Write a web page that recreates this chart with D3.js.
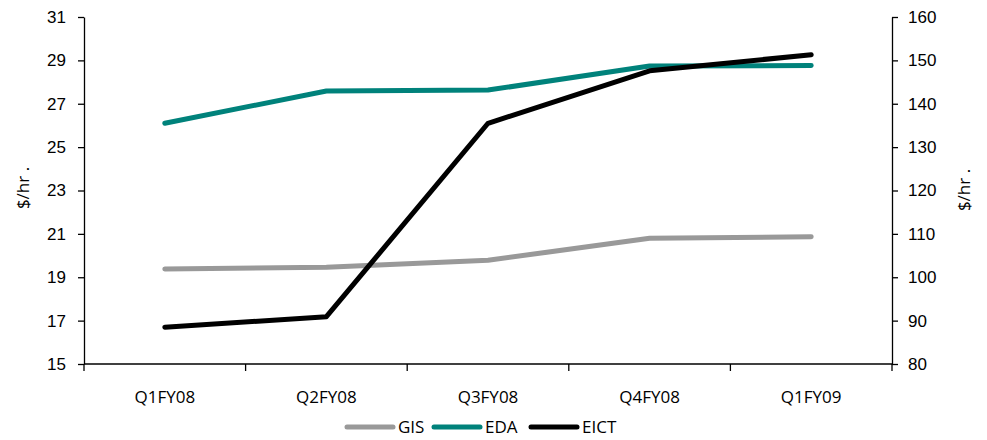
<!DOCTYPE html>
<html>
<head>
<meta charset="utf-8">
<script src="https://cdn.jsdelivr.net/npm/d3@7"></script>
<style>
  body { margin: 0; background: #fff; }
  svg { font-family: "Open Sans", "Noto Sans", sans-serif; }
  .axis path, .axis line { stroke: #000; stroke-width: 1.3; }
  .axis text { font-size: 17px; fill: #000; }
</style>
</head>
<body>
<div id="chart"></div>
<script>
// quarters on the x axis
const quarters = ["Q1FY08", "Q2FY08", "Q3FY08", "Q4FY08", "Q1FY09"];
// left axis series ($/hr)
const gis = [19.38, 19.46, 19.78, 20.8, 20.87];
const eda = [26.1, 27.59, 27.63, 28.74, 28.76];
// right axis series ($/hr)
const eict = [88.5, 90.9, 135.5, 147.6, 151.3];
const leftTicks = [15, 17, 19, 21, 23, 25, 27, 29, 31];
const rightTicks = [80, 90, 100, 110, 120, 130, 140, 150, 160];

const width = 987, height = 440;
const margin = {top: 17, right: 95, bottom: 76, left: 84};

const svg = d3.select("#chart").append("svg")
    .attr("width", width)
    .attr("height", height);

const x = d3.scaleBand()
    .domain(quarters)
    .range([margin.left, width - margin.right]);
const yL = d3.scaleLinear()
    .domain([15, 31])
    .range([height - margin.bottom, margin.top]);
const yR = d3.scaleLinear()
    .domain([80, 160])
    .range([height - margin.bottom, margin.top]);

// x axis: ticks at band edges
const xAxis = svg.append("g")
    .attr("class", "axis")
    .attr("transform", `translate(0,${height - margin.bottom})`);
xAxis.append("line")
    .attr("x1", margin.left).attr("x2", width - margin.right);
const edges = quarters.map(q => x(q)).concat([x.range()[1]]);
xAxis.selectAll(".edge").data(edges).join("line")
    .attr("class", "edge")
    .attr("x1", d => d).attr("x2", d => d)
    .attr("y1", 0).attr("y2", 7);
xAxis.selectAll("text").data(quarters).join("text")
    .attr("x", d => x(d) + x.bandwidth() / 2)
    .attr("y", 39)
    .attr("text-anchor", "middle")
    .text(d => d);

svg.append("g")
    .attr("class", "axis")
    .attr("transform", `translate(${margin.left},0)`)
    .call(d3.axisLeft(yL).tickValues(leftTicks).tickSize(6).tickSizeOuter(0).tickPadding(12));

svg.append("g")
    .attr("class", "axis")
    .attr("transform", `translate(${width - margin.right},0)`)
    .call(d3.axisRight(yR).tickValues(rightTicks).tickSize(6).tickSizeOuter(0).tickPadding(10));

svg.selectAll(".axis .domain").attr("stroke", "#000");

// axis titles
svg.append("text")
    .attr("transform", `translate(29,188) rotate(-90)`)
    .attr("text-anchor", "middle")
    .attr("font-size", 17)
    .text("$/hr .");
svg.append("text")
    .attr("transform", `translate(970,190) rotate(-90)`)
    .attr("text-anchor", "middle")
    .attr("font-size", 17)
    .text("$/hr .");

const cx = d => x(d) + x.bandwidth() / 2;

const series = [
  {name: "GIS", values: gis, scale: yL, color: "#999999"},
  {name: "EDA", values: eda, scale: yL, color: "#00827b"},
  {name: "EICT", values: eict, scale: yR, color: "#000000"}
];

series.forEach(s => {
  const line = d3.line()
      .x((d, i) => cx(quarters[i]))
      .y(d => s.scale(d));
  svg.append("path")
      .datum(s.values)
      .attr("fill", "none")
      .attr("stroke", s.color)
      .attr("stroke-width", 5)
      .attr("stroke-linecap", "round")
      .attr("stroke-linejoin", "round")
      .attr("d", line);
});

// legend
const legendX = [347, 434, 531];
const legend = svg.append("g");
series.forEach((s, i) => {
  const g = legend.append("g").attr("transform", `translate(${legendX[i]},427)`);
  g.append("line")
      .attr("x1", 0).attr("x2", 46)
      .attr("stroke", s.color)
      .attr("stroke-width", 5)
      .attr("stroke-linecap", "round");
  g.append("text")
      .attr("x", 51)
      .attr("y", 6)
      .attr("font-size", 17)
      .text(s.name);
});
</script>
</body>
</html>
